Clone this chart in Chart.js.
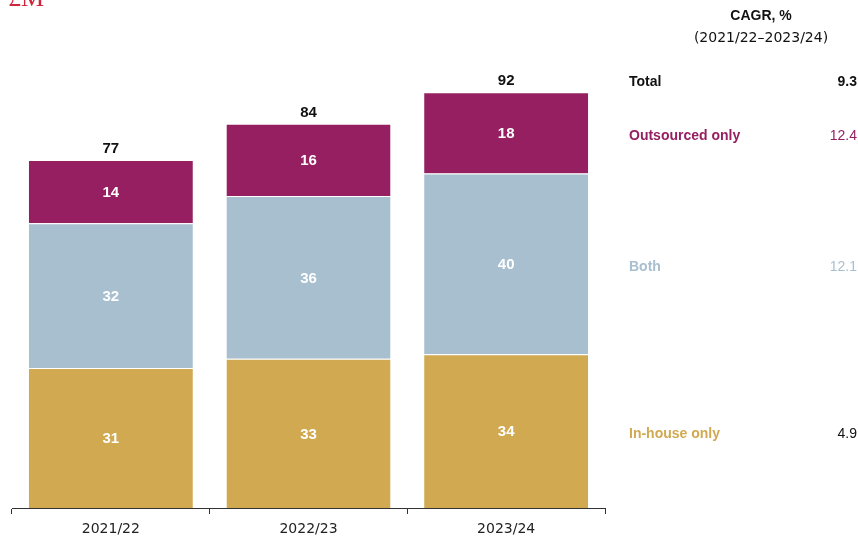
<!DOCTYPE html>
<html lang="en">
<head>
  <meta charset="UTF-8">
  <title>Stacked spend by year</title>
  <script src="https://cdn.jsdelivr.net/npm/chart.js"></script>
  <style>
    body { margin: 0; background: white; }
    #wrap { width: 858px; height: 538px; }
  </style>
</head>
<body>
  <div id="wrap"><canvas id="chart" width="858" height="538"></canvas></div>
  <script>
    const years = ['2021/22', '2022/23', '2023/24'];
    const inHouse = [31, 33, 34];
    const both = [32, 36, 40];
    const outsourced = [14, 16, 18];
    const totals = [77, 84, 92];
    const seriesNames = ['In-house only', 'Both', 'Outsourced only'];
    const cagr = [4.9, 12.1, 12.4];
    const cagrTotal = 9.3;

    const colors = ['#d1a950', '#a7bfcf', '#951f61'];
    const FONT = '"Liberation Sans", Arial, sans-serif';
    const WIDE = '"DejaVu Sans", sans-serif';

    // labels inside segments, totals, and the CAGR column on the right
    const annotate = {
      id: 'annotate',
      afterDatasetsDraw(chart) {
        const ctx = chart.ctx;
        ctx.save();
        ctx.textAlign = 'center';
        ctx.textBaseline = 'middle';

        chart.data.datasets.forEach((ds, i) => {
          chart.getDatasetMeta(i).data.forEach((bar, j) => {
            ctx.fillStyle = 'white';
            ctx.font = 'bold 15px ' + FONT;
            ctx.fillText(ds.data[j], bar.x, (bar.y + bar.base) / 2 + 1);
          });
        });

        chart.getDatasetMeta(2).data.forEach((bar, j) => {
          ctx.fillStyle = '#111';
          ctx.font = 'bold 15px ' + FONT;
          ctx.fillText(totals[j], bar.x, bar.y - 11);
        });

        // right-hand column
        const lx = 629, rx = 857;
        ctx.textAlign = 'center';
        ctx.fillStyle = '#111';
        ctx.font = 'bold 14px ' + FONT;
        ctx.fillText('CAGR, %', 761, 16);
        ctx.font = '14px ' + WIDE;
        ctx.fillText('(2021/22\u20132023/24)', 761, 38);

        ctx.textAlign = 'left';
        ctx.font = 'bold 14px ' + FONT;
        ctx.fillText('Total', lx, 82);
        ctx.textAlign = 'right';
        ctx.fillText(cagrTotal.toFixed(1), rx, 82);

        const last = years.length - 1;
        chart.data.datasets.forEach((ds, i) => {
          const bar = chart.getDatasetMeta(i).data[last];
          const my = (bar.y + bar.base) / 2 + 3;
          ctx.fillStyle = colors[i];
          ctx.textAlign = 'left';
          ctx.font = 'bold 14px ' + FONT;
          ctx.fillText(seriesNames[i], lx, my);
          ctx.textAlign = 'right';
          ctx.font = '14px ' + FONT;
          ctx.fillStyle = i === 0 ? '#111' : colors[i];
          ctx.fillText(cagr[i].toFixed(1), rx, my);
        });

        // unit label, cut off at the top like the original
        ctx.textAlign = 'left';
        ctx.textBaseline = 'alphabetic';
        ctx.fillStyle = '#d0233c';
        ctx.font = '26px "Liberation Serif", serif';
        ctx.fillText('\u00a3M', 8, 6);
        ctx.restore();
      }
    };

    new Chart(document.getElementById('chart'), {
      type: 'bar',
      data: {
        labels: years,
        datasets: [
          { label: seriesNames[0], data: inHouse, backgroundColor: colors[0] },
          { label: seriesNames[1], data: both, backgroundColor: colors[1] },
          { label: seriesNames[2], data: outsourced, backgroundColor: colors[2] }
        ].map(d => Object.assign(d, {
          borderColor: 'white', borderWidth: { top: 1 }, borderSkipped: false,
          barPercentage: 0.83, categoryPercentage: 1
        }))
      },
      options: {
        responsive: false,
        animation: false,
        layout: { padding: { left: 12, right: 253, top: 56, bottom: 0 } },
        plugins: { legend: { display: false }, tooltip: { enabled: false } },
        scales: {
          x: {
            stacked: true,
            offset: true,
            afterFit(scale) { scale.height = 30; },
            border: { color: '#333', width: 1 },
            grid: { display: true, drawOnChartArea: false, tickLength: 6, color: '#333', offset: true },
            ticks: { color: '#222', font: { family: WIDE, size: 14 }, padding: 7 }
          },
          y: {
            stacked: true,
            display: false,
            min: 0,
            max: 100
          }
        }
      },
      plugins: [annotate]
    });
  </script>
</body>
</html>
